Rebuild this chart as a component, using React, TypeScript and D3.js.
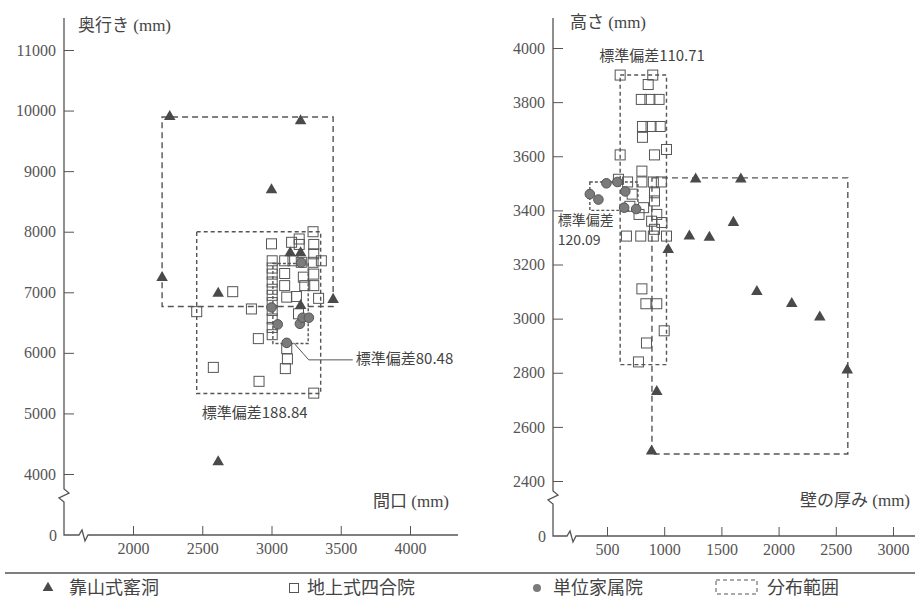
import React, { useEffect, useRef } from 'react';
import * as d3 from 'd3';

// left panel: 間口 (x) vs 奥行き (y)
const leftCave = [
  [2265, 9900], [3210, 9830], [3000, 8690], [2210, 7240], [2615, 6980],
  [3445, 6880], [3135, 7650], [3210, 7650], [3210, 6780], [2615, 4200],
];
const leftCourtyard = [
  [3300, 8000], [3000, 7800], [3145, 7825], [3200, 7880], [3200, 7790], [3305, 7790],
  [3305, 7635], [3005, 7520], [3095, 7520], [3155, 7520], [3215, 7495], [3300, 7495],
  [3360, 7520], [3005, 7400], [3005, 7300], [3095, 7310], [3230, 7250], [3305, 7300],
  [3005, 7170], [3095, 7110], [3240, 7110], [3305, 7110], [3005, 7050], [3005, 6950],
  [3110, 6920], [3180, 6930], [3340, 6900], [3005, 6830], [2855, 6725], [3005, 6700],
  [3195, 6645], [3005, 6560], [3005, 6420], [3005, 6300], [2905, 6235], [3110, 6070],
  [3115, 5900], [3100, 5740], [2910, 5530], [3305, 5335], [2460, 6680], [2720, 7010],
  [2580, 5760],
];
const leftCompound = [
  [3000, 6750], [3045, 6470], [3110, 6165], [3205, 6480], [3225, 6580], [3270, 6580], [3215, 7490],
];
// 分布範囲 [x0, x1, y0, y1] : cave, courtyard, compound
const leftRanges = [
  [2210, 3445, 6765, 9895],
  [2460, 3355, 5330, 8000],
  [3010, 3265, 6155, 7475],
];
const leftXTicks = [2000, 2500, 3000, 3500, 4000];
const leftYTicks = [4000, 5000, 6000, 7000, 8000, 9000, 10000, 11000];

// right panel: 壁の厚み (x) vs 高さ (y)
const rightCave = [
  [1275, 3515], [1670, 3515], [1605, 3355], [1220, 3305], [1395, 3300], [1035, 3255],
  [1810, 3100], [2115, 3055], [2360, 3005], [2600, 2810], [935, 2730], [890, 2510],
];
const rightCourtyard = [
  [615, 3900], [900, 3900], [860, 3865], [800, 3810], [875, 3810], [955, 3810],
  [810, 3710], [885, 3710], [965, 3710], [810, 3670], [615, 3605], [915, 3605],
  [1020, 3625], [805, 3545], [805, 3505], [600, 3515], [680, 3505], [905, 3505],
  [975, 3505], [720, 3460], [915, 3465], [915, 3435], [820, 3410], [700, 3415],
  [780, 3385], [935, 3385], [890, 3360], [980, 3355], [915, 3330], [670, 3305],
  [795, 3305], [905, 3305], [1020, 3305], [805, 3110], [840, 3055], [935, 3055],
  [1000, 2955], [845, 2910], [775, 2840],
];
const rightCompound = [
  [350, 3460], [425, 3440], [495, 3500], [590, 3505], [660, 3470], [650, 3410], [755, 3405],
];
const rightRanges = [
  [893, 2605, 2500, 3520],
  [615, 1020, 2830, 3900],
  [350, 770, 3400, 3505],
];
const rightXTicks = [500, 1000, 1500, 2000, 2500, 3000];
const rightYTicks = [2400, 2600, 2800, 3000, 3200, 3400, 3600, 3800, 4000];

const legendLabels = ['靠山式窰洞', '地上式四合院', '単位家属院', '分布範囲'];

const SERIF = '"Liberation Serif", "DejaVu Serif", serif';
const SANS = '"Noto Sans CJK JP", "Noto Sans", sans-serif';
const INK = '#444';
const rangeDash = ['6,4', '4,3', '3,2'];

const App = () => {
  const svgRef = useRef<SVGSVGElement>(null);

  useEffect(() => {
    const svg = d3.select(svgRef.current);
    svg.selectAll('*').remove();

    const panel = (o: any) => {
      const { x, y, ox, oy, xEnd, top, yBreak, xBreak } = o;
      const g = svg.append('g');

      // axis lines with breaks
      g.append('path')
        .attr('d', `M${ox},${top}V${yBreak}l5,4l-10,5l5,4V${oy}H${xBreak}l3,-5l3,11l3,-6H${xEnd}`)
        .attr('fill', 'none').attr('stroke', '#555').attr('stroke-width', 1.3);

      g.append('g').attr('transform', `translate(${ox},0)`)
        .call(d3.axisLeft(y).tickValues(o.yTicks).tickSizeInner(-10).tickSizeOuter(0).tickPadding(8).tickFormat(d3.format('d')))
        .call(s => s.select('.domain').remove())
        .attr('font-family', SERIF).attr('font-size', 16).style('color', '#555');

      g.append('g').attr('transform', `translate(0,${oy})`)
        .call(d3.axisBottom(x).tickValues(o.xTicks).tickSizeInner(-9).tickSizeOuter(0).tickPadding(8).tickFormat(d3.format('d')))
        .call(s => s.select('.domain').remove())
        .attr('font-family', SERIF).attr('font-size', 16).style('color', '#555');

      g.append('text').attr('x', ox - 7).attr('y', oy + 6).attr('text-anchor', 'end')
        .attr('font-family', SERIF).attr('font-size', 16).attr('fill', '#555').text('0');

      // distribution ranges
      g.append('g').selectAll('rect').data(o.ranges).join('rect')
        .attr('x', (d: any) => x(d[0])).attr('width', (d: any) => x(d[1]) - x(d[0]))
        .attr('y', (d: any) => y(d[3])).attr('height', (d: any) => y(d[2]) - y(d[3]))
        .attr('fill', 'none').attr('stroke', '#555').attr('stroke-width', 1.4)
        .attr('stroke-dasharray', (d: any, i: number) => rangeDash[i]);

      g.append('g').selectAll('rect').data(o.court).join('rect')
        .attr('x', (d: any) => x(d[0]) - 5).attr('y', (d: any) => y(d[1]) - 5)
        .attr('width', 10).attr('height', 10)
        .attr('fill', 'none').attr('stroke', '#555').attr('stroke-width', 1);

      g.append('g').selectAll('circle').data(o.comp).join('circle')
        .attr('cx', (d: any) => x(d[0])).attr('cy', (d: any) => y(d[1])).attr('r', 4.8)
        .attr('fill', '#7b7b7b').attr('stroke', '#555').attr('stroke-width', 1);

      g.append('g').selectAll('path').data(o.cave).join('path')
        .attr('transform', (d: any) => `translate(${x(d[0])},${y(d[1])})`)
        .attr('d', d3.symbol(d3.symbolTriangle, 58)())
        .attr('fill', '#4a4a4a');

      // axis titles
      const title = (tx: number, ty: number, jp: string) => {
        const t = g.append('text').attr('x', tx).attr('y', ty).attr('fill', INK).attr('font-size', 17);
        t.append('tspan').attr('font-family', SANS).text(jp);
        t.append('tspan').attr('font-family', SERIF).text(' (mm)');
      };
      title(o.yTitle[1], o.yTitle[2], o.yTitle[0]);
      title(o.xTitle[1], o.xTitle[2], o.xTitle[0]);
      return g;
    };

    // left
    const lx = d3.scaleLinear().domain([2000, 4000]).range([133, 410]);
    const ly = d3.scaleLinear().domain([4000, 11000]).range([474, 50]);
    const gl = panel({
      x: lx, y: ly, ox: 64, oy: 535, xEnd: 458, top: 18, yBreak: 489, xBreak: 79,
      xTicks: leftXTicks, yTicks: leftYTicks,
      cave: leftCave, court: leftCourtyard, comp: leftCompound, ranges: leftRanges,
      yTitle: ['奥行き', 78, 31], xTitle: ['間口', 373, 507],
    });
    const lc = leftRanges[1];
    gl.append('text').attr('x', (lx(lc[0]) + lx(lc[1])) / 2 - 4).attr('y', ly(lc[2]) + 25)
      .attr('text-anchor', 'middle').attr('font-family', SANS).attr('font-size', 15).attr('fill', INK)
      .text('標準偏差188.84');
    const lp = leftCompound[2];
    const px = lx(lp[0]), py = ly(lp[1]);
    gl.append('path').attr('d', `M${px + 7},${py}L${px + 22},${py + 17}H${px + 66}`)
      .attr('fill', 'none').attr('stroke', '#555').attr('stroke-width', 1);
    gl.append('text').attr('x', px + 69).attr('y', py + 21)
      .attr('font-family', SANS).attr('font-size', 15).attr('fill', INK).text('標準偏差80.48');

    // right
    const rx = d3.scaleLinear().domain([500, 3000]).range([607, 893]);
    const ry = d3.scaleLinear().domain([2400, 4000]).range([481, 48]);
    const gr = panel({
      x: rx, y: ry, ox: 553, oy: 536, xEnd: 915, top: 18, yBreak: 491, xBreak: 567,
      xTicks: rightXTicks, yTicks: rightYTicks,
      cave: rightCave, court: rightCourtyard, comp: rightCompound, ranges: rightRanges,
      yTitle: ['高さ', 570, 28], xTitle: ['壁の厚み', 800, 506],
    });
    const rc = rightRanges[1];
    gr.append('text').attr('x', rx(rc[0]) - 21).attr('y', ry(rc[3]) - 14)
      .attr('font-family', SANS).attr('font-size', 15).attr('fill', INK).text('標準偏差110.71');
    const rf = rightRanges[2];
    gr.append('text').attr('x', rx(rf[0]) - 32).attr('y', ry(rf[2]) + 15)
      .attr('font-family', SANS).attr('font-size', 14).attr('fill', INK).text('標準偏差');
    gr.append('text').attr('x', rx(rf[0]) - 32).attr('y', ry(rf[2]) + 35)
      .attr('font-family', SANS).attr('font-size', 14).attr('fill', INK).text('120.09');

    // legend
    svg.append('line').attr('x1', 5).attr('x2', 915).attr('y1', 573).attr('y2', 573)
      .attr('stroke', '#555').attr('stroke-width', 1.4);
    const leg = svg.append('g').attr('font-family', SANS).attr('font-size', 18).attr('fill', INK);
    leg.append('path').attr('transform', 'translate(48,588)')
      .attr('d', d3.symbol(d3.symbolTriangle, 50)()).attr('fill', '#4a4a4a');
    leg.append('text').attr('x', 69).attr('y', 594).text(legendLabels[0]);
    leg.append('rect').attr('x', 289.5).attr('y', 583.5).attr('width', 9).attr('height', 9)
      .attr('fill', 'none').attr('stroke', '#555');
    leg.append('text').attr('x', 307).attr('y', 594).text(legendLabels[1]);
    leg.append('circle').attr('cx', 537).attr('cy', 588).attr('r', 4).attr('fill', '#7b7b7b');
    leg.append('text').attr('x', 553).attr('y', 594).text(legendLabels[2]);
    leg.append('rect').attr('x', 716).attr('y', 580).attr('width', 41).attr('height', 14)
      .attr('fill', 'none').attr('stroke', '#555').attr('stroke-dasharray', '4,3');
    leg.append('text').attr('x', 767).attr('y', 594).text(legendLabels[3]);
  }, []);

  return (
    <svg ref={svgRef} width={915} height={601}
      style={{ position: 'absolute', left: 0, top: 0, background: '#fff' }} />
  );
};

export default App;
